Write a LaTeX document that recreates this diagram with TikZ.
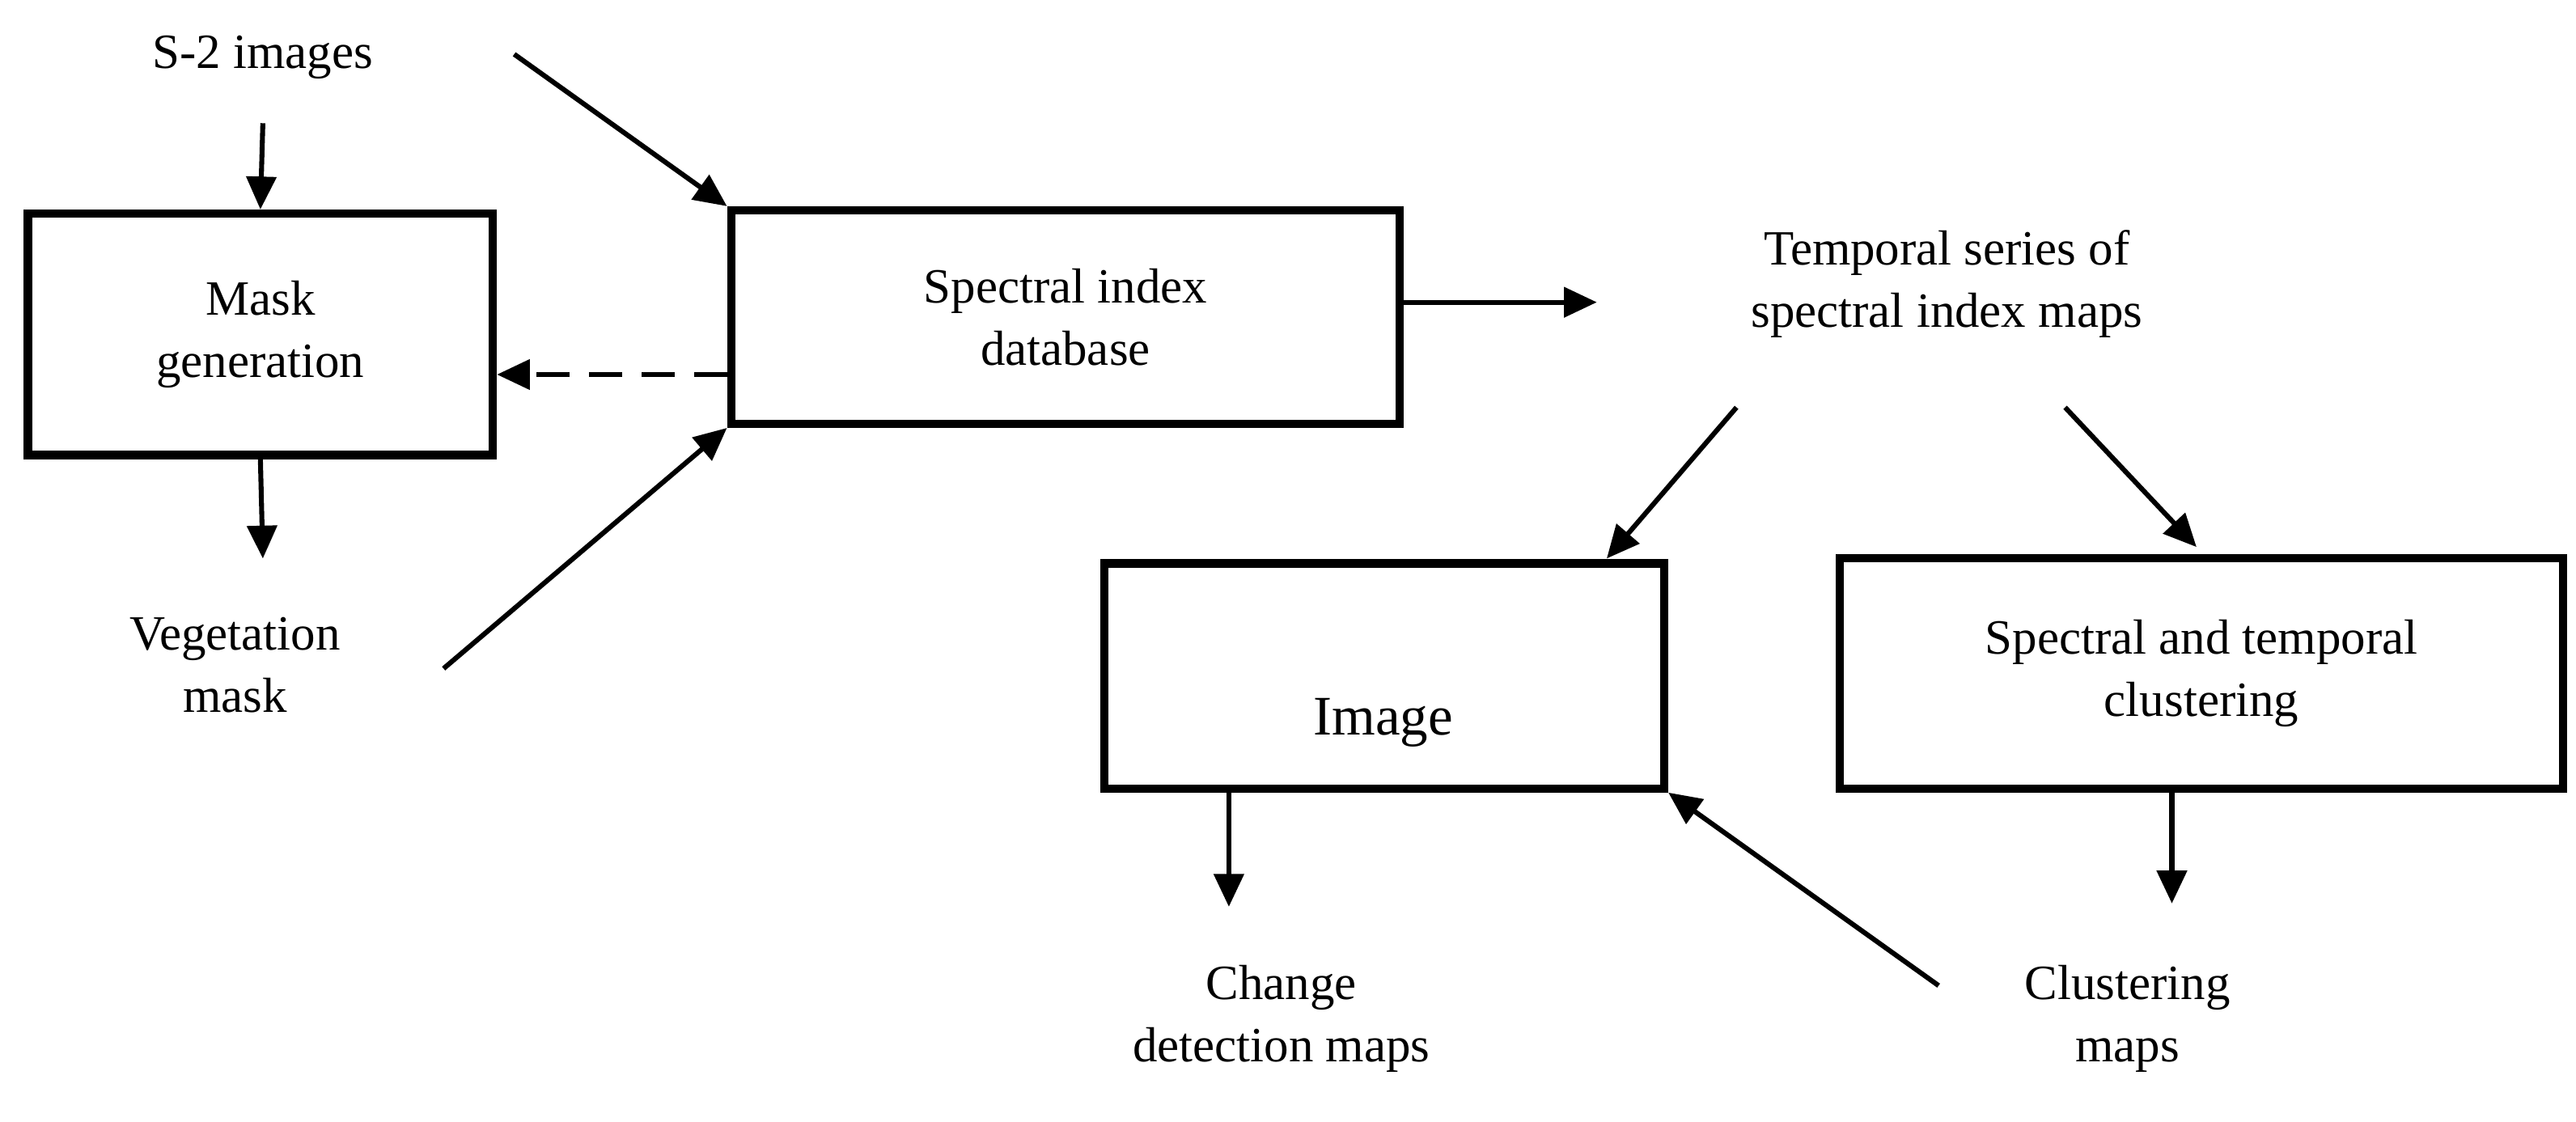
\documentclass[tikz,border=0pt]{standalone}
\usepackage{fontspec}
\setmainfont{Liberation Serif}
\usetikzlibrary{arrows.meta}

\tikzset{
  box/.style={draw, line width=5pt, inner sep=0pt},
  lbl/.style={align=center, font=\fontsize{30}{38}\selectfont},
  arr/.style={line width=3pt, -{Triangle[length=20pt,width=18pt]}}
}

\begin{document}
\begin{tikzpicture}[x=1pt,y=-1pt]
\useasboundingbox (0,0) rectangle (1568,683);
% boxes
\node[box, minimum width=283pt, minimum height=147pt, lbl] (mask) at (158.5,203.5) {Mask\\generation};
\node[box, minimum width=407pt, minimum height=130pt, lbl] (sid) at (648.5,193) {Spectral index\\database};
\node[box, minimum width=341pt, minimum height=137pt] (img) at (842.5,411.5) {};
\node[lbl, font=\fontsize{34}{40}\selectfont] (imgtxt) at (842,440) {Image};
\node[box, minimum width=440pt, minimum height=140pt, lbl] (clus) at (1340,410) {Spectral and temporal\\clustering};
% texts
\node[lbl] (s2) at (160,35) {S-2 images};
\node[lbl] (veg) at (143,405) {Vegetation\\mask};
\node[lbl] (ts) at (1185,173) {Temporal series of\\spectral index maps};
\node[lbl] (cd) at (780,620) {Change\\detection maps};
\node[lbl] (cm) at (1295,620) {Clustering\\maps};
% connector ends
\coordinate (s2a) at (313,33);
\coordinate (vega) at (270,407);
\coordinate (tsl) at (1057,248);
\coordinate (tsr) at (1257,248);
\coordinate (cma) at (1180,600);
% connectors
\draw[arr] (160,75) -- (mask.north);
\draw[arr] (mask.south) -- (160,340);
\draw[arr] (s2a) -- (sid.north west);
\draw[arr] (vega) -- (sid.south west);
\draw[arr, dashed, dash pattern=on 20pt off 12pt] (sid.west |- 0,228) -- (mask.east |- 0,228);
\draw[arr] (sid.east |- 0,184) -- (972,184);
\draw[arr] (tsl) -- (978,340);
\draw[arr] (tsr) -- (1337,333);
\draw[arr] (748,480) -- (748,552);
\draw[arr] (1322,480) -- (1322,550);
\draw[arr] (cma) -- (img.south east);
\end{tikzpicture}
\end{document}
